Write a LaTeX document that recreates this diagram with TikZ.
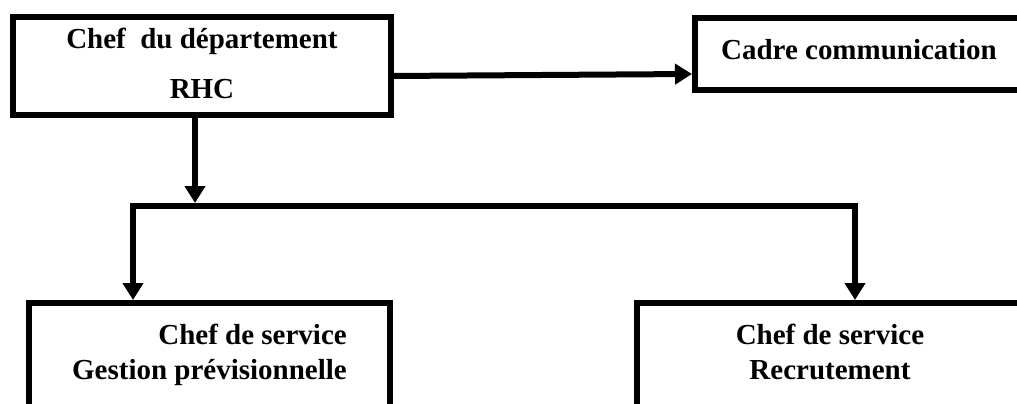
\documentclass[tikz,border=0pt]{standalone}
\usepackage{fontspec}
\setmainfont{Liberation Serif}
\usepackage{tikz}
\usetikzlibrary{arrows.meta}
\tikzset{bigtip/.tip={Triangle[length=0.34cm, width=0.4cm]}}

\begin{document}
\begin{tikzpicture}[x=0.02cm, y=-0.02cm,
  font=\bfseries\fontsize{16.5}{28.5}\selectfont,
  box/.style={draw, line width=0.12cm, inner sep=0pt, anchor=north west},
  link/.style={line width=0.12cm, -bigtip}]
  \useasboundingbox (0,0) rectangle (1017,403);
  \clip (0,0) rectangle (1017,403);
  % top row
  \node[box, minimum width=7.56cm, text height=1.64cm, text depth=0.32cm, align=center]
    (rhc) at (10,14) {Chef\ \ du département\\RHC};
  \node[box, minimum width=6.56cm, text height=0.84cm, text depth=0.6cm]
    (cadre) at (692,15) {Cadre communication};
  % services
  \node[box, minimum width=7.22cm, text height=1.54cm, text depth=1.0cm, align=right,
    font=\bfseries\fontsize{16.5}{20}\selectfont]
    (gestion) at (26,300) {Chef de service\\Gestion prévisionnelle};
  \node[box, minimum width=7.72cm, text height=1.54cm, text depth=1.0cm, align=center,
    font=\bfseries\fontsize{16.5}{20}\selectfont]
    (recrut) at (634,300) {Chef de service\\Recrutement};
  % bus
  \coordinate (busL) at (133,206);
  \coordinate (busR) at (855,206);
  \coordinate (busM) at (195,203);
  % connectors
  \draw[link] ([yshift=-0.2cm]rhc.east) -- ([yshift=-0.4cm]cadre.west);
  \draw[link] (rhc.south -| busM) -- (busM);
  \draw[link, bigtip-bigtip] (gestion.north -| busL) -- (busL) -- (busR) -- (busR |- recrut.north);
\end{tikzpicture}
\end{document}
